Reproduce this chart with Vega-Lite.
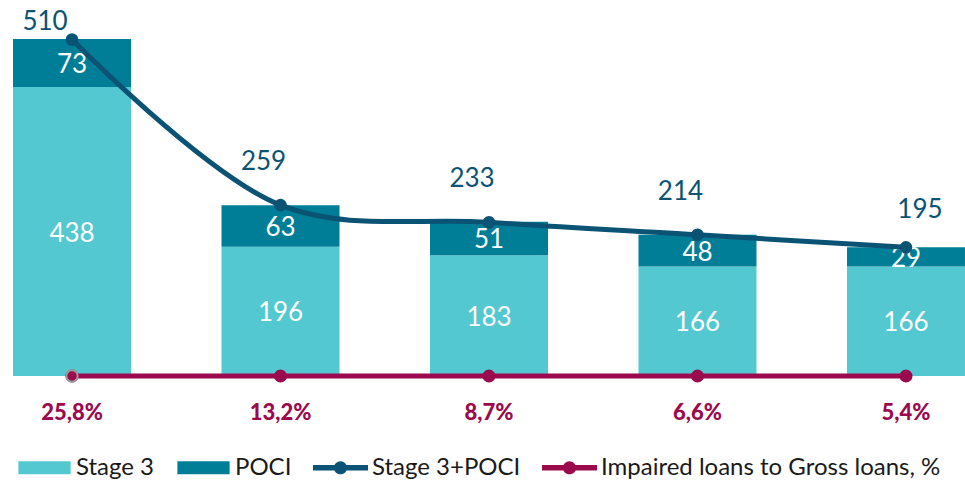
{
  "$schema": "https://vega.github.io/schema/vega-lite/v6.json",
  "width": 978,
  "height": 376,
  "autosize": "none",
  "padding": {"left": 0, "top": 0, "right": 0, "bottom": 106},
  "config": {
    "view": {"stroke": null},
    "font": "Lato",
    "locale": {"number": {"decimal": ",", "thousands": " ", "grouping": [3], "currency": ["", " €"]}}
  },
  "datasets": {
    "bars": [
      {"period": "P1", "series": "Stage 3", "layer": 1, "value": 438},
      {"period": "P1", "series": "POCI", "layer": 2, "value": 73},
      {"period": "P2", "series": "Stage 3", "layer": 1, "value": 196},
      {"period": "P2", "series": "POCI", "layer": 2, "value": 63},
      {"period": "P3", "series": "Stage 3", "layer": 1, "value": 183},
      {"period": "P3", "series": "POCI", "layer": 2, "value": 51},
      {"period": "P4", "series": "Stage 3", "layer": 1, "value": 166},
      {"period": "P4", "series": "POCI", "layer": 2, "value": 48},
      {"period": "P5", "series": "Stage 3", "layer": 1, "value": 166},
      {"period": "P5", "series": "POCI", "layer": 2, "value": 29}
    ],
    "summary": [
      {"period": "P1", "total": 510, "impaired": 0.258},
      {"period": "P2", "total": 259, "impaired": 0.132},
      {"period": "P3", "total": 233, "impaired": 0.087},
      {"period": "P4", "total": 214, "impaired": 0.066},
      {"period": "P5", "total": 195, "impaired": 0.054}
    ]
  },
  "layer": [
    {
      "data": {"name": "bars"},
      "mark": {"type": "bar"},
      "encoding": {
        "x": {"field": "period", "type": "nominal", "axis": null, "scale": {"paddingInner": 0.434, "paddingOuter": 0.0624}},
        "y": {"field": "value", "type": "quantitative", "stack": "zero", "axis": null, "scale": {"domain": [0, 570], "nice": false, "zero": true}},
        "color": {
          "field": "series",
          "type": "nominal",
          "scale": {
            "domain": ["Stage 3", "POCI", "Stage 3+POCI", "Impaired loans to Gross loans, %"],
            "range": ["#53C8D1", "#007E98", "#0B5374", "#9C0A4E"]
          },
          "legend": {
            "title": null,
            "orient": "none",
            "legendX": 17,
            "legendY": 440,
            "direction": "horizontal",
            "labelFont": "Lato",
            "labelFontSize": 24,
            "labelColor": "#1a1a1a",
            "labelOffset": 4,
            "columnPadding": 21,
            "symbolSize": 3025,
            "labelLimit": 500,
            "encode": {
              "symbols": {
                "update": {
                  "shape": {"signal": "(datum.value === 'Stage 3' || datum.value === 'POCI') ? 'M-0.95,-0.24H0.95V0.24H-0.95Z' : 'M-1,-0.1H-0.2V0.1H-1Z M0.2,-0.1H1V0.1H0.2Z M0.24,0A0.24,0.24 0 1,1 -0.24,0A0.24,0.24 0 1,1 0.24,0Z'"},
                  "fill": {"scale": "color", "field": "value"},
                  "stroke": {"value": "transparent"},
                  "strokeWidth": {"value": 0},
                  "opacity": {"value": 1},
                  "fillOpacity": {"value": 1}
                }
              }
            }
          }
        },
        "order": {"field": "layer", "type": "quantitative"}
      }
    },
    {
      "data": {"name": "bars"},
      "mark": {"type": "text", "color": "white", "fontSize": 26, "font": "Lato", "baseline": "middle", "dy": 2},
      "encoding": {
        "x": {"field": "period", "type": "nominal"},
        "y": {"field": "value", "type": "quantitative", "stack": "zero", "bandPosition": 0.5},
        "detail": {"field": "series"},
        "order": {"field": "layer", "type": "quantitative"},
        "text": {"field": "value", "type": "quantitative"}
      }
    },
    {
      "data": {"name": "summary"},
      "mark": {"type": "line", "interpolate": "catmull-rom", "strokeWidth": 5, "point": {"filled": true, "size": 160}},
      "encoding": {
        "x": {"field": "period", "type": "nominal"},
        "y": {"field": "total", "type": "quantitative"},
        "color": {"datum": "Stage 3+POCI"}
      }
    },
    {
      "data": {"name": "summary"},
      "transform": [{"filter": "datum.period === 'P1'"}],
      "mark": {"type": "text", "color": "#0B5374", "fontSize": 26, "font": "Lato", "baseline": "middle", "dx": -27, "dy": -18},
      "encoding": {
        "x": {"field": "period", "type": "nominal"},
        "y": {"field": "total", "type": "quantitative"},
        "text": {"field": "total", "type": "quantitative"}
      }
    },
    {
      "data": {"name": "summary"},
      "transform": [{"filter": "datum.period !== 'P1' && datum.period !== 'P5'"}],
      "mark": {"type": "text", "color": "#0B5374", "fontSize": 26, "font": "Lato", "baseline": "middle", "dx": -17, "dy": -43},
      "encoding": {
        "x": {"field": "period", "type": "nominal"},
        "y": {"field": "total", "type": "quantitative"},
        "text": {"field": "total", "type": "quantitative"}
      }
    },
    {
      "data": {"name": "summary"},
      "transform": [{"filter": "datum.period === 'P5'"}],
      "mark": {"type": "text", "color": "#0B5374", "fontSize": 26, "font": "Lato", "baseline": "middle", "dx": 14, "dy": -37},
      "encoding": {
        "x": {"field": "period", "type": "nominal"},
        "y": {"field": "total", "type": "quantitative"},
        "text": {"field": "total", "type": "quantitative"}
      }
    },
    {
      "data": {"name": "summary"},
      "mark": {"type": "line", "strokeWidth": 5, "point": {"filled": true, "size": 170}},
      "encoding": {
        "x": {"field": "period", "type": "nominal"},
        "y": {"datum": 0},
        "color": {"datum": "Impaired loans to Gross loans, %"}
      }
    },
    {
      "data": {"name": "summary"},
      "transform": [{"filter": "datum.period === 'P1'"}],
      "mark": {"type": "point", "filled": true, "size": 130, "color": "#9C0A4E", "stroke": "#9a9a9a", "strokeWidth": 2, "opacity": 1},
      "encoding": {
        "x": {"field": "period", "type": "nominal"},
        "y": {"datum": 0}
      }
    },
    {
      "data": {"name": "summary"},
      "mark": {"type": "text", "color": "#9C0A4E", "fontSize": 22, "fontWeight": 900, "font": "Lato", "baseline": "middle", "dy": 37},
      "encoding": {
        "x": {"field": "period", "type": "nominal"},
        "y": {"datum": 0},
        "text": {"field": "impaired", "type": "quantitative", "format": ".1%"}
      }
    }
  ]
}
